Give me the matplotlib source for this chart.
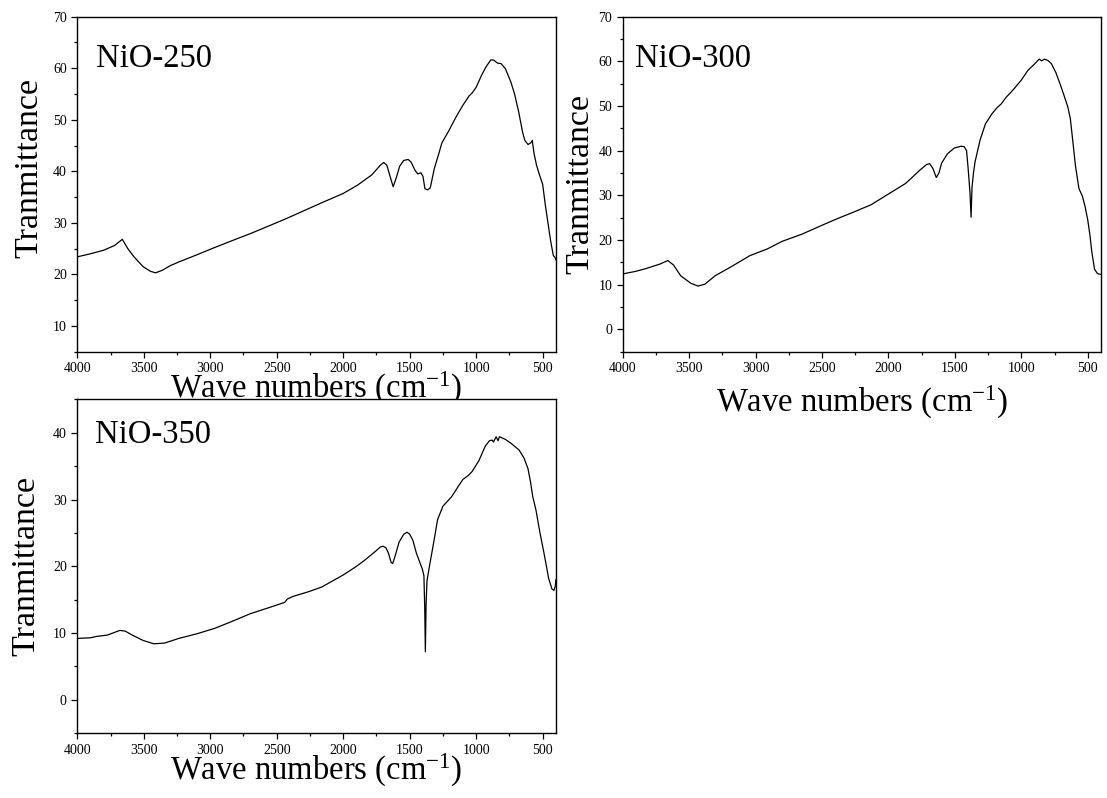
import matplotlib
matplotlib.use('Agg')
import matplotlib.pyplot as plt
from matplotlib.ticker import MultipleLocator

plt.rcParams['font.family'] = ['Liberation Serif', 'DejaVu Serif']
plt.rcParams['mathtext.fontset'] = 'custom'
plt.rcParams['mathtext.rm'] = 'Liberation Serif'
plt.rcParams['mathtext.default'] = 'regular'

# NiO-250 (wave number, transmittance)
wn_250 = [4000, 3900, 3800, 3720, 3661, 3620, 3573, 3505, 3450, 3411, 3360, 3300, 3237,
          3100, 2968, 2800, 2699, 2550, 2430, 2300, 2161, 2000, 1893, 1785, 1720, 1695,
          1672, 1645, 1624, 1600, 1575, 1545, 1512, 1490, 1460, 1440, 1415, 1400, 1385,
          1365, 1345, 1315, 1280, 1258, 1207, 1150, 1100, 1054, 1030, 1000, 960, 925,
          890, 870, 840, 813, 780, 740, 711, 680, 650, 634, 610, 590, 578, 565, 546,
          520, 500, 480, 460, 440, 420, 405, 400]
tr_250 = [23.4, 24.0, 24.7, 25.6, 26.8, 25.0, 23.4, 21.5, 20.6, 20.3, 20.8, 21.7, 22.4,
          23.8, 25.2, 26.9, 27.9, 29.5, 30.8, 32.3, 33.9, 35.7, 37.3, 39.3, 41.2, 41.7,
          41.2, 38.8, 37.0, 38.8, 41.0, 42.1, 42.3, 41.8, 40.2, 39.5, 39.7, 39.0, 36.6,
          36.4, 36.8, 40.5, 43.5, 45.5, 47.8, 50.6, 52.8, 54.6, 55.2, 56.3, 58.6, 60.3,
          61.6, 61.6, 61.0, 60.9, 59.9, 57.4, 55.0, 51.5, 47.5, 46.0, 45.2, 45.5, 46.0,
          43.5, 41.2, 39.0, 37.5, 33.5, 30.0, 26.5, 23.7, 23.2, 22.8]

# NiO-300
wn_300 = [4000, 3900, 3825, 3721, 3660, 3617, 3564, 3486, 3434, 3382, 3304, 3173, 3043,
          2912, 2800, 2652, 2500, 2391, 2250, 2130, 2000, 1869, 1765, 1713, 1690, 1665,
          1640, 1620, 1600, 1556, 1504, 1452, 1430, 1412, 1400, 1386, 1378, 1371, 1360,
          1348, 1311, 1270, 1220, 1180, 1150, 1113, 1080, 1048, 1000, 950, 904, 865,
          847, 826, 800, 774, 740, 709, 680, 650, 631, 610, 592, 566, 540, 520, 500,
          483, 470, 449, 430, 420, 400]
tr_300 = [12.4, 13.0, 13.6, 14.6, 15.4, 14.4, 12.0, 10.3, 9.7, 10.1, 12.0, 14.2, 16.5,
          18.0, 19.7, 21.3, 23.3, 24.7, 26.4, 27.9, 30.3, 32.7, 35.6, 36.9, 37.1, 36.0,
          34.0, 35.0, 37.2, 39.3, 40.6, 41.0, 40.9, 40.0, 36.0, 30.5, 25.1, 31.8, 35.0,
          37.5, 42.3, 46.0, 48.3, 49.7, 50.5, 52.0, 53.0, 54.1, 55.8, 58.0, 59.3, 60.5,
          60.1, 60.5, 60.2, 59.5, 57.5, 55.0, 52.5, 49.8, 47.2, 41.5, 36.5, 31.5, 29.8,
          27.5, 24.5, 21.0, 17.5, 13.5, 12.6, 12.4, 12.3]

# NiO-350
wn_350 = [4000, 3900, 3855, 3774, 3720, 3680, 3640, 3586, 3505, 3425, 3344, 3237, 3100,
          2968, 2830, 2699, 2560, 2440, 2420, 2376, 2260, 2161, 2000, 1900, 1839, 1760,
          1720, 1700, 1680, 1660, 1640, 1628, 1610, 1580, 1545, 1520, 1500, 1476, 1450,
          1426, 1405, 1393, 1387, 1382, 1377, 1370, 1355, 1320, 1290, 1250, 1185, 1140,
          1100, 1059, 1030, 980, 931, 900, 880, 870, 850, 835, 825, 780, 737, 677, 640,
          610, 590, 575, 551, 520, 495, 475, 455, 430, 415, 405, 400]
tr_350 = [9.2, 9.3, 9.5, 9.7, 10.1, 10.4, 10.3, 9.7, 8.9, 8.4, 8.5, 9.2, 9.9,
          10.7, 11.8, 12.9, 13.8, 14.6, 15.1, 15.5, 16.2, 16.9, 18.7, 20.0, 20.9, 22.2,
          22.9, 23.0, 22.8, 22.0, 20.6, 20.4, 21.5, 23.6, 24.8, 25.1, 24.8, 23.9, 22.0,
          20.7, 19.6, 18.6, 14.0, 7.2, 14.0, 17.8, 19.6, 23.5, 27.0, 29.0, 30.4, 31.8,
          33.0, 33.6, 34.2, 35.8, 38.0, 38.8, 38.9, 38.6, 39.4, 38.8, 39.4, 39.0, 38.4,
          37.4, 36.2, 34.6, 32.5, 30.5, 28.5, 25.0, 22.5, 20.4, 18.2, 16.6, 16.4, 17.0, 18.0]

names = ['NiO-250', 'NiO-300', 'NiO-350']
ylims = [(5, 70), (-5, 70), (-5, 45)]

fig = plt.figure(figsize=(11.07, 7.98), dpi=100)
ax1 = fig.add_axes([0.0698, 0.5593, 0.4324, 0.4198])
ax2 = fig.add_axes([0.5625, 0.5593, 0.4321, 0.4198])
ax3 = fig.add_axes([0.0698, 0.0811, 0.4324, 0.4185])

panels = [(ax1, wn_250, tr_250), (ax2, wn_300, tr_300), (ax3, wn_350, tr_350)]
# label positions in axes coords (tuned by eye)
name_pos = [(0.040, 0.851), (0.025, 0.851), (0.037, 0.868)]
xlab_y = [-0.138, -0.18, -0.14]
ylab_pos = [(-0.083, 0.548), (-0.0725, 0.5), (-0.09, 0.5)]

for i, (ax, wn, tr) in enumerate(panels):
    ax.plot(wn, tr, color='black', linewidth=0.9)
    ax.set_xlim(4000, 400)
    ax.set_ylim(*ylims[i])
    ax.xaxis.set_major_locator(MultipleLocator(500))
    ax.xaxis.set_minor_locator(MultipleLocator(250))
    ax.yaxis.set_major_locator(MultipleLocator(10))
    ax.yaxis.set_minor_locator(MultipleLocator(5))
    ax.tick_params(which='both', direction='out', top=False, right=False,
                   labelsize=10, width=0.9, pad=3)
    ax.tick_params(which='major', length=4.5)
    ax.tick_params(which='minor', length=2.5)
    for sp in ax.spines.values():
        sp.set_linewidth(1.0)

    ax.set_xlabel('Wave numbers (cm$^{-1}$)', fontsize=23.5)
    ax.xaxis.set_label_coords(0.5, xlab_y[i])
    ax.xaxis.label.set_va('baseline')
    ax.set_ylabel('Tranmittance', fontsize=24.5)
    ax.yaxis.set_label_coords(*ylab_pos[i])
    ax.yaxis.label.set_va('baseline')

    ax.text(name_pos[i][0], name_pos[i][1], names[i], transform=ax.transAxes,
            fontsize=23.5, va='baseline', ha='left')

fig.savefig('out.png', dpi=100)
